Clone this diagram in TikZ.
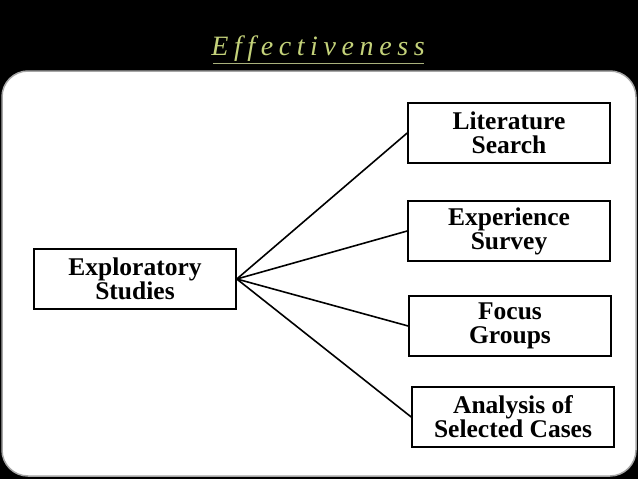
\documentclass[tikz,border=0pt]{standalone}
\usepackage{fontspec}
\setmainfont{Liberation Serif}
\newfontfamily\titlefont[LetterSpace=20]{Liberation Serif}
\definecolor{titlegreen}{HTML}{C4D27A}
\tikzset{
    studybox/.style={draw=black, line width=1.6pt, fill=white, minimum width=202pt,
        minimum height=60pt, align=center, font=\fontsize{25.5}{24}\selectfont\bfseries},
    fanline/.style={line width=1.6pt}
}
\begin{document}
\begin{tikzpicture}[x=1pt, y=-1pt]
\useasboundingbox (0,0) rectangle (638,479);
\fill[black] (0,0) rectangle (638,479);

% Title
\node[text=titlegreen, font=\fontsize{28}{30}\selectfont\titlefont\itshape] (title)
    at (318,49) {Effectiveness};
\draw[titlegreen!60!gray, line width=0.8pt] (213,63) -- (424,63);

% White panel
\draw[fill=white, draw=gray!70, line width=1.5pt, rounded corners=26pt]
    (2,71) rectangle (636,476);

% Boxes
\node[studybox] (expl) at (135,279) {Exploratory\\Studies};
\node[studybox] (lit) at (509,133) {Literature\\Search};
\node[studybox] (exp) at (509,231) {Experience\\Survey};
\node[studybox] (focus) at (510,326) {Focus\\Groups};
\node[studybox] (cases) at (513,417) {Analysis of\\Selected Cases};

% Connectors
\foreach \target in {lit, exp, focus, cases}
    \draw[fanline] (expl.east) -- (\target.west);

\end{tikzpicture}
\end{document}
